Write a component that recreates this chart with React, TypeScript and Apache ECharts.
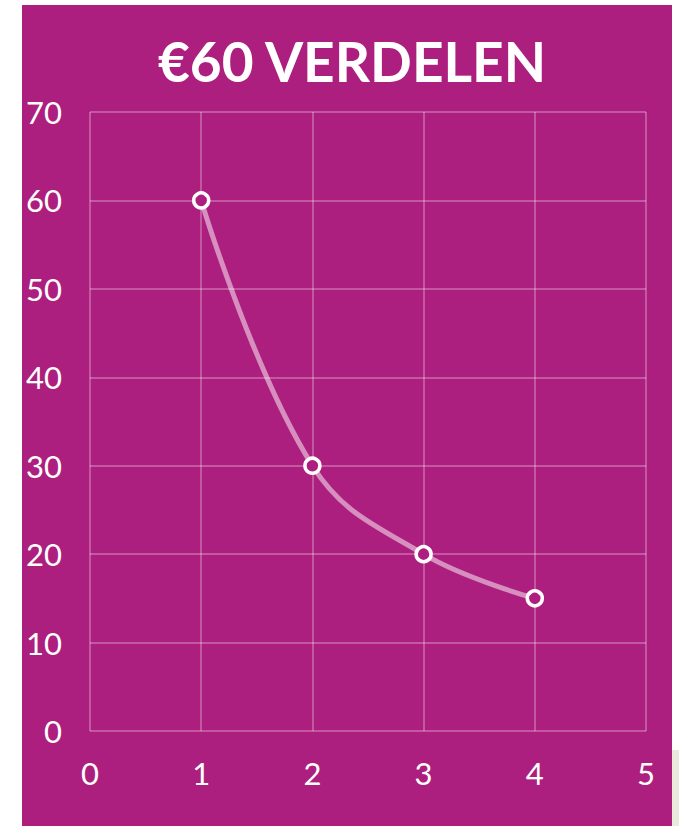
import React, { useEffect, useRef } from "react";
import * as echarts from "echarts";

const title = "€60 VERDELEN";
const xValues = [1, 2, 3, 4];
const yValues = [60, 30, 20, 15];
const xTicks = [0, 1, 2, 3, 4, 5];
const yTicks = [0, 10, 20, 30, 40, 50, 60, 70];

export default function App() {
  const ref = useRef<HTMLDivElement>(null);
  useEffect(() => {
    const chart = echarts.init(ref.current!, undefined, { renderer: "svg" });
    const font = "'Liberation Sans Narrow', Lato, sans-serif";
    const gridLine = { lineStyle: { color: "rgba(255,255,255,0.35)", width: 1.5 } };
    chart.setOption({
      animation: false,
      backgroundColor: "#ffffff",
      graphic: [
        { type: "rect", shape: { x: 668, y: 750, width: 11, height: 76 }, style: { fill: "#e9e9dc" }, z: -2 },
        { type: "rect", shape: { x: 22, y: 5, width: 650, height: 821 }, style: { fill: "#ad1f7f" }, z: -1 },
      ],
      title: {
        text: title,
        left: 347,
        top: 28,
        textAlign: "center",
        textStyle: { color: "#ffffff", fontSize: 55, fontWeight: "bold", fontFamily: "Lato, sans-serif" },
      },
      grid: { left: 90, right: 33, top: 112, bottom: 95 },
      xAxis: {
        type: "value",
        min: xTicks[0],
        max: xTicks[xTicks.length - 1],
        interval: 1,
        axisLine: { show: false },
        axisTick: { show: false },
        splitLine: { show: true, ...gridLine },
        axisLabel: { color: "#ffffff", fontSize: 31, fontFamily: font, margin: 26 },
      },
      yAxis: {
        type: "value",
        min: yTicks[0],
        max: yTicks[yTicks.length - 1],
        interval: 10,
        axisLine: { show: false },
        axisTick: { show: false },
        splitLine: { show: true, ...gridLine },
        axisLabel: { color: "#ffffff", fontSize: 31, fontFamily: font, margin: 28 },
      },
      series: [
        {
          type: "line",
          data: xValues.map((x, i) => [x, yValues[i]]),
          smooth: 0.4,
          symbol: "circle",
          symbolSize: 15,
          lineStyle: { color: "rgba(255,255,255,0.5)", width: 5 },
          itemStyle: { color: "#ad1f7f", borderColor: "#ffffff", borderWidth: 3.5 },
        },
      ],
    });
    return () => chart.dispose();
  }, []);
  return (
    <div
      ref={ref}
      style={{ position: "absolute", left: 0, top: 0, width: 679, height: 826 }}
    />
  );
}
